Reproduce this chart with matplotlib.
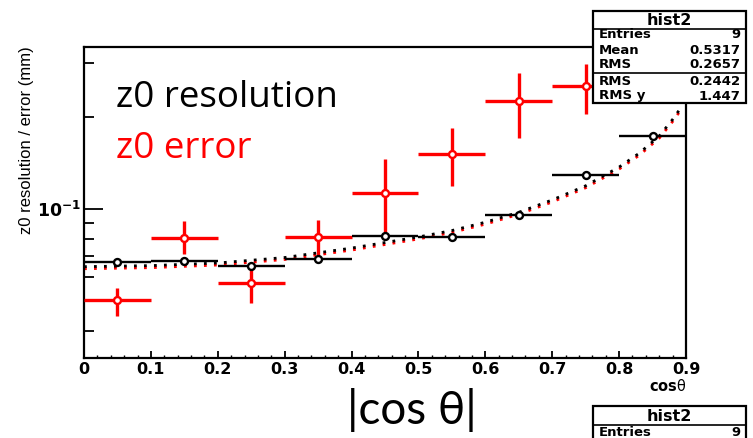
import matplotlib
matplotlib.use('Agg')
import matplotlib.pyplot as plt
from matplotlib.patches import Rectangle
from matplotlib.lines import Line2D

# values
bin_centers = [0.05, 0.15, 0.25, 0.35, 0.45, 0.55, 0.65, 0.75, 0.85]
res_vals = [0.0671, 0.0676, 0.0651, 0.0687, 0.0816, 0.0810, 0.0954, 0.129, 0.1728]

err_centers = [0.05, 0.15, 0.25, 0.35, 0.45, 0.55, 0.65, 0.75]
err_vals = [0.0504, 0.0802, 0.0573, 0.0808, 0.113, 0.151, 0.225, 0.252]
err_lo = [0.0447, 0.0713, 0.0493, 0.0708, 0.0792, 0.119, 0.170, 0.204]
err_hi = [0.0553, 0.0914, 0.0656, 0.0920, 0.146, 0.184, 0.279, 0.298]

fit_x = [0.0, 0.1, 0.2, 0.3, 0.4, 0.5, 0.55, 0.6, 0.65, 0.7, 0.75, 0.8, 0.83, 0.86, 0.88, 0.895]
fit_res = [0.0648, 0.0653, 0.0666, 0.0694, 0.0745, 0.0810, 0.0850, 0.0905, 0.0975,
           0.107, 0.119, 0.137, 0.152, 0.173, 0.196, 0.218]
fit_err = [0.0638, 0.0643, 0.0656, 0.0684, 0.0734, 0.0798, 0.0838, 0.0892, 0.0961,
           0.1054, 0.1173, 0.135, 0.1497, 0.1704, 0.193, 0.2147]

x_ticks = [0, 0.1, 0.2, 0.3, 0.4, 0.5, 0.6, 0.7, 0.8, 0.9]
x_ticklabels = ['0', '0.1', '0.2', '0.3', '0.4', '0.5', '0.6', '0.7', '0.8', '0.9']

stats_top = [('Entries', '9'), ('Mean', '0.5317'), ('RMS', '0.2657')]
stats_fit = [('RMS', '0.2442'), ('RMS y', '1.447')]

W, H = 753, 438
plt.rcParams['mathtext.fontset'] = 'custom'
plt.rcParams['mathtext.rm'] = 'DejaVu Sans:bold'
plt.rcParams['mathtext.bf'] = 'DejaVu Sans:bold'
plt.rcParams['mathtext.it'] = 'DejaVu Sans'

fig = plt.figure(figsize=(W / 100, H / 100), dpi=100)
ax = fig.add_axes([84 / W, 1 - 358 / H, (686 - 84) / W, (358 - 47) / H])

def fx(px):
    return px / W

def fy(py):
    return 1 - py / H

# fit curves
ax.plot(fit_x, fit_err, color='red', lw=2, ls=(0, (1.0, 2.6)), zorder=2)
ax.plot(fit_x, fit_res, color='black', lw=2, ls=(0, (1.0, 2.6)), zorder=3)

# z0 error (red)
yerr = [[v - lo for v, lo in zip(err_vals, err_lo)], [hi - v for v, hi in zip(err_vals, err_hi)]]
ax.errorbar(err_centers, err_vals, xerr=0.05, yerr=yerr, fmt='o', color='red', ecolor='red',
            elinewidth=2.4, capsize=0, ms=5, mfc='white', mec='red', mew=1.7, zorder=4)

# z0 resolution (black)
ax.errorbar(bin_centers, res_vals, xerr=0.05, fmt='o', color='black', ecolor='black',
            elinewidth=1.7, capsize=0, ms=5, mfc='white', mec='black', mew=1.7, zorder=5)

ax.set_yscale('log')
ax.set_xlim(0, 0.9)
ax.set_ylim(0.0326, 0.338)

ax.set_xticks(x_ticks)
ax.set_xticklabels(x_ticklabels, fontfamily='DejaVu Sans', fontweight='bold', fontsize=11.5)
ax.set_xticks([i * 0.02 for i in range(46)], minor=True)
ax.set_yticks([0.1])
ax.set_yticklabels([r'$10^{-1}$'], fontsize=12.5)
ax.set_yticks([0.04, 0.05, 0.06, 0.07, 0.08, 0.09, 0.2, 0.3], minor=True)
ax.yaxis.set_minor_formatter(plt.NullFormatter())

ax.tick_params(axis='x', which='major', direction='in', length=5, width=1.3, pad=3)
ax.tick_params(axis='x', which='minor', direction='in', length=2.5, width=1.0)
ax.tick_params(axis='y', which='major', direction='in', length=14, width=1.3, pad=2)
ax.tick_params(axis='y', which='minor', direction='in', length=7, width=1.3)
for s in ax.spines.values():
    s.set_linewidth(1.6)

# axis titles
fig.text(fx(686), fy(386), r'cos$\mathit{\theta}$', ha='right', va='center', fontsize=10.5,
         fontfamily='DejaVu Sans', fontweight='bold')
fig.text(fx(27), fy(140), 'z0 resolution / error (mm)', rotation=90, ha='center', va='center',
         fontsize=12, family=['Liberation Sans Narrow', 'Liberation Sans'])

# annotations
fig.text(fx(116), fy(107), 'z0 resolution', color='black', fontsize=26.5,
         family=['Open Sans', 'DejaVu Sans'], ha='left', va='baseline')
fig.text(fx(116), fy(158), 'z0 error', color='red', fontsize=26.5,
         family=['Open Sans', 'DejaVu Sans'], ha='left', va='baseline')
fig.text(fx(412), fy(410), '|cos θ|', color='black', fontsize=33,
         family=['Lato', 'DejaVu Sans'], ha='center', va='center')

# stats box (top)
bx0, bx1 = 593, 746
fig.add_artist(Rectangle((fx(bx0), fy(103)), fx(bx1 - bx0), (103 - 11) / H, transform=fig.transFigure,
                         facecolor='white', edgecolor='black', lw=1.6, zorder=10))
fig.add_artist(Line2D([fx(bx0), fx(bx1)], [fy(29), fy(29)], color='black', lw=1.2, zorder=11))
fig.add_artist(Line2D([fx(bx0), fx(bx1)], [fy(73), fy(73)], color='black', lw=1.2, zorder=11))
fig.text(fx((bx0 + bx1) / 2), fy(20.5), 'hist2', ha='center', va='center', fontsize=11.5,
         fontfamily='DejaVu Sans', fontweight='bold', zorder=12)
rows_y = [35, 50, 64, 82, 96]
for (name, val), yy in zip(stats_top + stats_fit, rows_y):
    fig.text(fx(bx0 + 6), fy(yy), name, ha='left', va='center', fontsize=9.5,
             fontfamily='DejaVu Sans', fontweight='bold', zorder=12)
    fig.text(fx(bx1 - 6), fy(yy), val, ha='right', va='center', fontsize=9.5,
             fontfamily='DejaVu Sans', fontweight='bold', zorder=12)

# stats box (bottom, cut off)
fig.add_artist(Rectangle((fx(bx0), fy(450)), fx(bx1 - bx0), (450 - 406) / H, transform=fig.transFigure,
                         facecolor='white', edgecolor='black', lw=1.6, zorder=10, clip_on=False))
fig.add_artist(Line2D([fx(bx0), fx(bx1)], [fy(425), fy(425)], color='black', lw=1.2, zorder=11))
fig.text(fx((bx0 + bx1) / 2), fy(416.5), 'hist2', ha='center', va='center', fontsize=11.5,
         fontfamily='DejaVu Sans', fontweight='bold', zorder=12)
fig.text(fx(bx0 + 6), fy(433), 'Entries', ha='left', va='center', fontsize=9.5,
         fontfamily='DejaVu Sans', fontweight='bold', zorder=12)
fig.text(fx(bx1 - 6), fy(433), '9', ha='right', va='center', fontsize=9.5,
         fontfamily='DejaVu Sans', fontweight='bold', zorder=12)

fig.savefig('out.png', dpi=100)
